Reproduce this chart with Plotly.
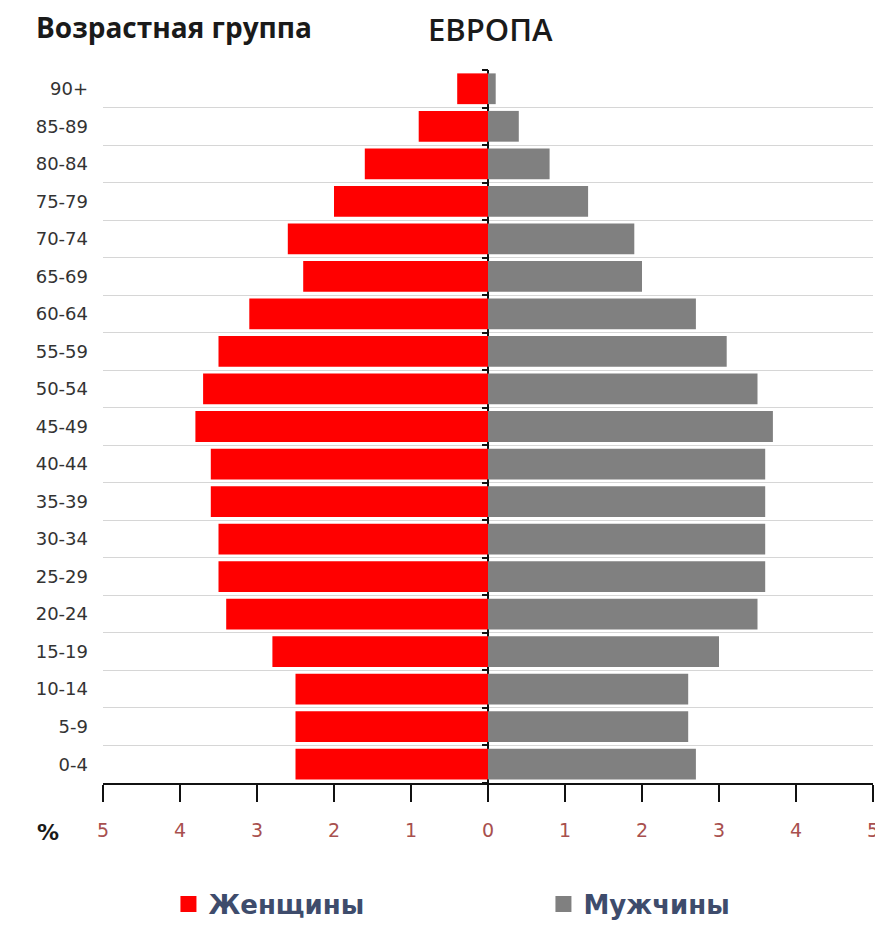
import plotly.graph_objects as go

age_groups = ["0-4", "5-9", "10-14", "15-19", "20-24", "25-29", "30-34", "35-39",
              "40-44", "45-49", "50-54", "55-59", "60-64", "65-69", "70-74",
              "75-79", "80-84", "85-89", "90+"]
women = [2.5, 2.5, 2.5, 2.8, 3.4, 3.5, 3.5, 3.6, 3.6, 3.8, 3.7, 3.5, 3.1, 2.4, 2.6,
         2.0, 1.6, 0.9, 0.4]
men = [2.7, 2.6, 2.6, 3.0, 3.5, 3.6, 3.6, 3.6, 3.6, 3.7, 3.5, 3.1, 2.7, 2.0, 1.9,
       1.3, 0.8, 0.4, 0.1]
x_ticks = [-5, -4, -3, -2, -1, 0, 1, 2, 3, 4, 5]
x_ticktext = ["5", "4", "3", "2", "1", "0", "1", "2", "3", "4", "5"]

RED = "#FF0000"
GREY = "#808080"
FONT = "Open Sans"
TICKFONT = "DejaVu Sans"

fig = go.Figure()
fig.add_trace(go.Bar(
    y=age_groups, x=[-v for v in women], orientation="h", name="Женщины",
    marker=dict(color=RED, line=dict(width=0)), showlegend=False,
    xaxis="x", yaxis="y",
))
fig.add_trace(go.Bar(
    y=age_groups, x=men, orientation="h", name="Мужчины",
    marker=dict(color=GREY, line=dict(width=0)), showlegend=False,
    xaxis="x", yaxis="y2",
))
# legend-only entries with larger square swatches
fig.add_trace(go.Scatter(
    x=[None], y=[None], mode="markers", name="Женщины",
    marker=dict(symbol="square", size=16, color=RED), legend="legend",
))
fig.add_trace(go.Scatter(
    x=[None], y=[None], mode="markers", name="Мужчины",
    marker=dict(symbol="square", size=16, color=GREY), legend="legend2",
))

legend_font = dict(family="DejaVu Sans", size=26, color="#3E4C6C", weight="bold")

fig.update_layout(
    width=875, height=943,
    margin=dict(l=103, r=2, t=70, b=160, autoexpand=False),
    paper_bgcolor="white", plot_bgcolor="white",
    bargap=0.18,
    font=dict(family=FONT, color="#333333"),
    xaxis=dict(
        range=[-5, 5], domain=[0, 1],
        tickvals=x_ticks, ticktext=x_ticktext,
        ticks="outside", ticklen=17, tickwidth=2, tickcolor="#111111",
        showline=True, linecolor="#111111", linewidth=2,
        showgrid=False,
        zeroline=True, zerolinecolor="#111111", zerolinewidth=2,
        tickfont=dict(family=TICKFONT, size=19, color="#A8504E"),
        ticklabelstandoff=12, ticklabeloverflow="allow",
        fixedrange=True,
    ),
    yaxis=dict(
        type="category", categoryorder="array", categoryarray=age_groups,
        tickson="boundaries", ticks="",
        showgrid=True, gridcolor="#D6D6D6", gridwidth=1,
        showline=False, zeroline=False,
        tickfont=dict(family=TICKFONT, size=18, color="#333333"),
        ticklabelstandoff=14,
    ),
    yaxis2=dict(
        type="category", categoryorder="array", categoryarray=age_groups,
        overlaying="y", anchor="free", position=0.5, side="left",
        tickson="boundaries", ticks="outside", ticklen=6, tickwidth=2,
        tickcolor="#111111", showticklabels=False,
        showgrid=False, showline=False, zeroline=False,
    ),
    legend=dict(
        orientation="h", x=0.085, xanchor="left", y=-0.170, yanchor="middle",
        font=legend_font, bgcolor="rgba(0,0,0,0)",
    ),
    legend2=dict(
        orientation="h", x=0.572, xanchor="left", y=-0.170, yanchor="middle",
        font=legend_font, bgcolor="rgba(0,0,0,0)",
    ),
    showlegend=True,
    annotations=[
        dict(text="<b>Возрастная группа</b>", xref="paper", yref="paper",
             x=-0.090, y=1.06, xanchor="left", yanchor="middle", showarrow=False,
             font=dict(family=FONT, size=28, color="#1A1A1A")),
        dict(text="ЕВРОПА", xref="paper", yref="paper",
             x=0.503, y=1.057, xanchor="center", yanchor="middle", showarrow=False,
             font=dict(family=FONT, size=31, color="#1A1A1A", weight=600)),
        dict(text="<b>%</b>", xref="paper", yref="paper",
             x=-0.071, y=-0.07, xanchor="center", yanchor="middle", showarrow=False,
             font=dict(family=TICKFONT, size=22, color="#1A1A1A")),
    ],
)

fig.write_html(
    "out.html",
    config={"displayModeBar": False},
    post_script="document.body.style.margin='0';document.body.style.overflow='hidden';",
)
